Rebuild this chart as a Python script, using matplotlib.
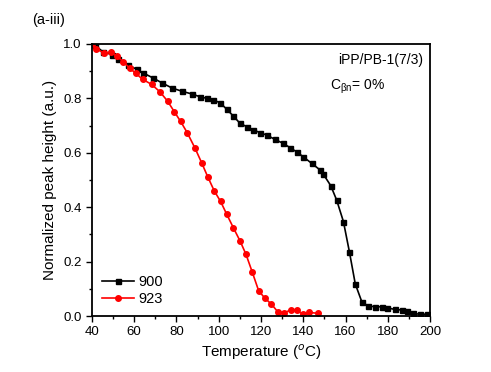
import numpy as np
import matplotlib.pyplot as plt
from matplotlib.ticker import MultipleLocator

plt.rcParams['font.family'] = ['Liberation Sans', 'DejaVu Sans']

t900 = [40, 41.4, 45.2, 49.5, 52.3, 57.0, 61.3, 64.1, 68.9, 73.1, 77.9, 82.6, 87.3, 91.1,
        94.3, 97.4, 100.6, 103.8, 106.9, 110.1, 113.2, 116.4, 119.5, 122.7, 126.6, 130.6,
        133.7, 136.9, 140.0, 144.0, 147.9, 149.5, 153.0, 155.8, 159.0, 161.8, 164.6,
        167.8, 170.8, 173.9, 177.1, 179.8, 183.4, 186.6, 189.0, 192.1, 195.3, 198.4]
h900 = [1.0, 0.996, 0.971, 0.961, 0.946, 0.924, 0.906, 0.894, 0.875, 0.857, 0.838, 0.826,
        0.816, 0.806, 0.800, 0.794, 0.784, 0.760, 0.735, 0.708, 0.696, 0.684, 0.674, 0.665,
        0.649, 0.634, 0.619, 0.603, 0.585, 0.561, 0.537, 0.521, 0.479, 0.426, 0.347, 0.237,
        0.118, 0.050, 0.037, 0.034, 0.034, 0.030, 0.024, 0.022, 0.019, 0.010, 0.006, 0.007]

t923 = [40, 42.2, 45.7, 48.9, 51.7, 54.8, 58.0, 60.8, 64.0, 68.3, 72.2, 75.8, 79.0, 82.0,
        85.1, 88.8, 91.9, 94.8, 97.9, 100.9, 103.8, 106.9, 110.1, 112.9, 115.9, 118.9,
        121.9, 124.9, 127.9, 130.9, 134.1, 136.9, 139.8, 142.9, 146.8]
h923 = [1.0, 0.981, 0.967, 0.969, 0.956, 0.935, 0.910, 0.892, 0.870, 0.851, 0.824, 0.79,
        0.751, 0.715, 0.674, 0.617, 0.564, 0.512, 0.460, 0.421, 0.374, 0.325, 0.276, 0.227,
        0.161, 0.093, 0.065, 0.044, 0.016, 0.012, 0.022, 0.022, 0.006, 0.013, 0.010]

fig = plt.figure(figsize=(4.91, 3.72), dpi=100)
ax = fig.add_axes([0.187, 0.1505, 0.689, 0.7315])

ax.plot(t900, h900, color='black', marker='s', markersize=3.6, linewidth=1.2, label='900')
ax.plot(t923, h923, color='red', marker='o', markersize=4, linewidth=1.2, label='923')

ax.set_xlim(40, 200)
ax.set_ylim(0, 1.0)
ax.xaxis.set_major_locator(MultipleLocator(20))
ax.xaxis.set_minor_locator(MultipleLocator(10))
ax.yaxis.set_major_locator(MultipleLocator(0.2))
ax.yaxis.set_minor_locator(MultipleLocator(0.1))
ax.tick_params(which='both', direction='out', top=False, right=False, labelsize=9.5)
ax.tick_params(which='major', length=4, width=1)
ax.tick_params(which='minor', length=2.5, width=1)
for s in ax.spines.values():
    s.set_linewidth(1.3)

ax.set_xlabel('Temperature ($^{o}$C)', fontsize=11, labelpad=3)
ax.set_ylabel('Normalized peak height (a.u.)', fontsize=11, labelpad=4)

ax.legend(loc='lower left', frameon=False, fontsize=10.5, handlelength=2.2,
          handletextpad=0.3, labelspacing=0.2, borderaxespad=0.3)

ax.text(0.98, 0.965, 'iPP/PB-1(7/3)', transform=ax.transAxes, ha='right', va='top', fontsize=10)
ax.text(0.705, 0.875, r'C$_{\mathregular{\beta n}}$= 0%', transform=ax.transAxes,
        ha='left', va='top', fontsize=10)
fig.text(0.065, 0.965, '(a-iii)', ha='left', va='top', fontsize=10.5)

fig.savefig('out.png', dpi=100)
